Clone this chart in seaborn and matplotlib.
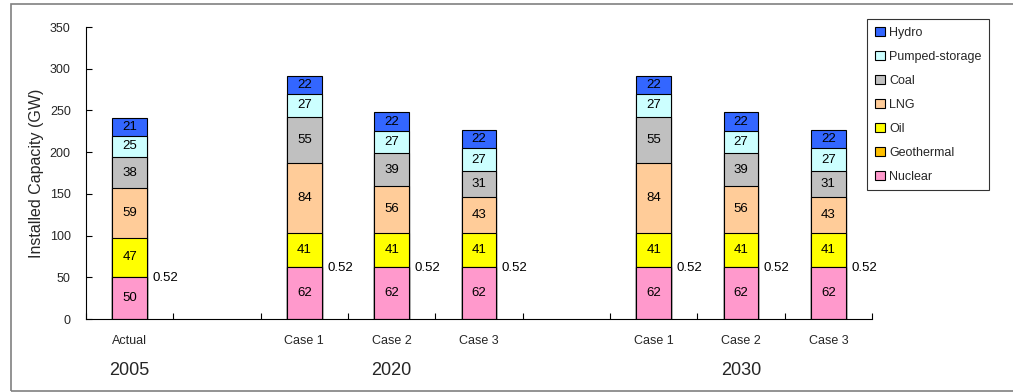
import matplotlib
matplotlib.use("Agg")
import matplotlib.pyplot as plt
from matplotlib.patches import Patch, Rectangle
from matplotlib.transforms import blended_transform_factory
import seaborn as sns
import pandas as pd

# ---------------- data ----------------
years = ["2005", "2020", "2030"]
cases = ["Actual", "Case 1", "Case 2", "Case 3", "Case 1", "Case 2", "Case 3"]
case_year = ["2005", "2020", "2020", "2020", "2030", "2030", "2030"]
sources = ["Nuclear", "Geothermal", "Oil", "LNG", "Coal", "Pumped-storage", "Hydro"]
nuclear = [50, 62, 62, 62, 62, 62, 62]
geothermal = [0.52, 0.52, 0.52, 0.52, 0.52, 0.52, 0.52]
oil = [47, 41, 41, 41, 41, 41, 41]
lng = [59, 84, 56, 43, 84, 56, 43]
coal = [38, 55, 39, 31, 55, 39, 31]
pumped = [25, 27, 27, 27, 27, 27, 27]
hydro = [21, 22, 22, 22, 22, 22, 22]
yticks = [0, 50, 100, 150, 200, 250, 300, 350]

colors = {
    "Nuclear": "#FF99CC",
    "Geothermal": "#FFC000",
    "Oil": "#FFFF00",
    "LNG": "#FFCC99",
    "Coal": "#C0C0C0",
    "Pumped-storage": "#CCFFFF",
    "Hydro": "#3366FF",
}

values = {"Nuclear": nuclear, "Geothermal": geothermal, "Oil": oil, "LNG": lng,
          "Coal": coal, "Pumped-storage": pumped, "Hydro": hydro}

# keys (with empty slots between year groups)
keys = [f"{y} {c}" for y, c in zip(case_year, cases)]
order = [keys[0], "gap1", keys[1], keys[2], keys[3], "gap2", keys[4], keys[5], keys[6]]

rows = []
for i, k in enumerate(keys):
    cum = 0.0
    for s in sources:
        v = values[s][i]
        rows.append({"key": k, "source": s, "value": v, "bottom": cum, "cum": cum + v})
        cum += v
df = pd.DataFrame(rows)

# ---------------- plot ----------------
sns.set_style("white")
plt.rcParams["font.family"] = ["Liberation Sans", "DejaVu Sans"]

fig = plt.figure(figsize=(10.13, 3.92), dpi=100)
ax = fig.add_axes([86 / 1013, 1 - 319 / 392, (872 - 86) / 1013, (319 - 27) / 392])

# draw cumulative bars from top layer down so each lower layer covers the upper
for s in sources[::-1]:
    sub = df[df["source"] == s]
    sns.barplot(data=sub, x="key", y="cum", order=order, color=colors[s],
                saturation=1, width=0.4, edgecolor="black", linewidth=0.8,
                errorbar=None, ax=ax)

# value labels
pos = {k: order.index(k) for k in keys}
for _, r in df.iterrows():
    x = pos[r["key"]]
    if r["source"] == "Geothermal":
        ax.text(x + 0.26, r["bottom"] - 1, f"{r['value']:.2f}", ha="left", va="center",
                fontsize=9.5, color="black")
    else:
        ax.text(x, r["bottom"] + r["value"] / 2, f"{r['value']:.0f}", ha="center",
                va="center", fontsize=9.5, color="black")

ax.set_xlim(-0.5, 8.5)
ax.set_ylim(0, 350)
ax.set_yticks(yticks)
ax.set_yticklabels([str(t) for t in yticks], fontsize=9)
ax.set_xticks([i + 0.5 for i in range(-1, 9)])
ax.set_xticklabels([])
ax.tick_params(axis="both", direction="in", length=4, width=0.8, color="black",
               bottom=True, left=True)
ax.tick_params(axis="y", pad=11)
ax.set_xlabel("")
ax.set_ylabel("Installed Capacity (GW)", fontsize=11.5, labelpad=4)
for sp in ["top", "right"]:
    ax.spines[sp].set_visible(False)
for sp in ["left", "bottom"]:
    ax.spines[sp].set_color("black")
    ax.spines[sp].set_linewidth(0.8)

trans = blended_transform_factory(ax.transData, ax.transAxes)
for k, c in zip(keys, cases):
    ax.text(pos[k], -0.075, c, transform=trans, ha="center", va="center", fontsize=9)
for y, xc in zip(years, [0, 3, 7]):
    ax.text(xc, -0.178, y, transform=trans, ha="center", va="center", fontsize=13)

handles = [Patch(facecolor=colors[s], edgecolor="black", linewidth=0.8, label=s)
           for s in sources[::-1]]
leg = fig.legend(handles=handles, loc="upper left",
                 bbox_to_anchor=(867 / 1013, 1 - 19 / 392), frameon=True,
                 fancybox=False, fontsize=9, handlelength=0.8, handleheight=0.8,
                 handletextpad=0.4, labelspacing=0.95, borderpad=0.6,
                 borderaxespad=0)
leg.get_frame().set_edgecolor("black")
leg.get_frame().set_linewidth(0.8)

fig.add_artist(Rectangle((11 / 1013, 1 - 391 / 392), 1.2, (391 - 4) / 392,
                         transform=fig.transFigure, fill=False,
                         edgecolor="#808080", linewidth=1.2))

fig.savefig("out.png", dpi=100)
